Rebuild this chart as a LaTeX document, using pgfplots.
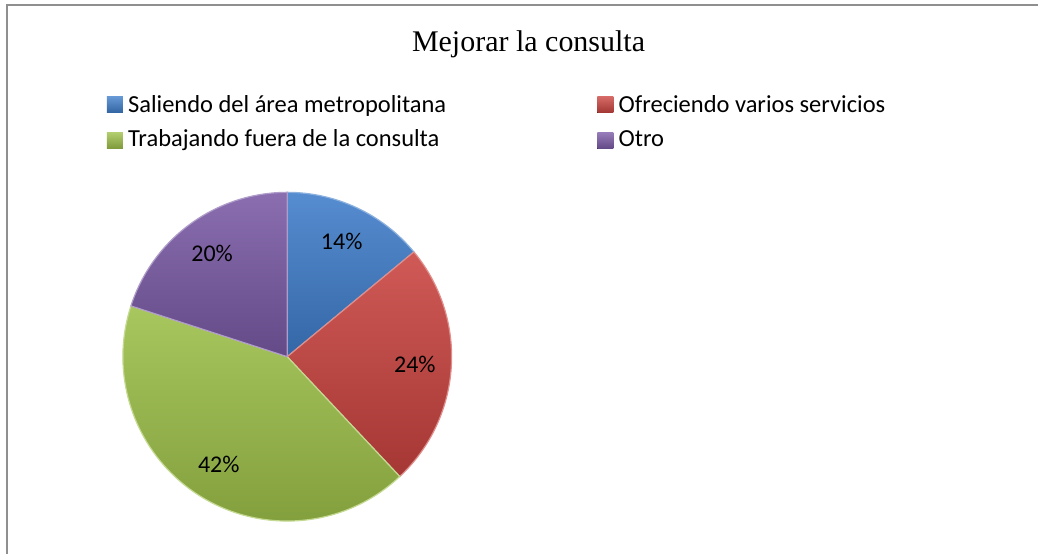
\documentclass[border=0pt]{standalone}
\usepackage{fontspec}
\setmainfont{Liberation Serif}
\newfontfamily\calibri{Carlito}
\usepackage{pgfplots}
\usepackage{pgfplotstable}
\pgfplotsset{compat=1.18}

\definecolor{sliceBlue}{HTML}{3F7DCA}
\definecolor{sliceRed}{HTML}{C9433F}
\definecolor{sliceGreen}{HTML}{9CBF48}
\definecolor{slicePurple}{HTML}{7A5AA5}
\definecolor{frameGray}{HTML}{8F8F8F}

\pgfplotstableread{
label value color
Saliendo 14 sliceBlue
Ofreciendo 24 sliceRed
Trabajando 42 sliceGreen
Otro 20 slicePurple
}\piedata

\newcommand\labelfont{\calibri\fontsize{24}{29}\selectfont}
\newcommand\legfont{\calibri\fontsize{24.5}{29}\selectfont}

\begin{document}
\begin{tikzpicture}
\begin{axis}[
  x=1pt, y=1pt,
  xmin=0, xmax=1039, ymin=0, ymax=554,
  hide axis, clip=false,
  scale only axis,
]
\path (axis cs:0,0) rectangle (axis cs:1039,554);
% frame (top and left visible)
\draw[frameGray, line width=1.8pt] (axis cs:7,0) -- (axis cs:7,549) -- (axis cs:1039,549);

% title
\node[anchor=base, inner sep=0pt, font=\fontsize{30}{36}\selectfont] at (axis cs:529,502) {Mejorar la consulta};

% pie
\gdef\startang{90}
\pgfplotsforeachungrouped \i in {0,...,3}{%
  \pgfplotstablegetelem{\i}{value}\of\piedata \let\val\pgfplotsretval
  \pgfplotstablegetelem{\i}{color}\of\piedata \let\col\pgfplotsretval
  \pgfmathsetmacro{\endang}{\startang-3.6*\val}%
  \pgfmathsetmacro{\midang}{(\startang+\endang)/2}%
  \edef\cmd{%
    \noexpand\path[top color=\col!88!white, bottom color=\col!82!black,
        draw=\col!60!white, line width=1.2pt, line join=round]
      (axis cs:287.5,197) -- ++(\startang:164.5pt)
      arc[start angle=\startang, end angle=\endang, radius=164.5pt] -- cycle;
    \noexpand\node[font=\noexpand\labelfont, inner sep=0pt]
      at ([shift={(\midang:128pt)}]axis cs:287.5,197) {\val\%};
  }%
  \cmd
  \global\let\startang\endang
}

% legend
\fill[top color=sliceBlue!80!white, bottom color=sliceBlue!80!black] (axis cs:107,441) rectangle (axis cs:123,457);
\node[anchor=base west, inner sep=0pt, font=\legfont] at (axis cs:128,441) {Saliendo del área metropolitana};
\fill[top color=sliceGreen!80!white, bottom color=sliceGreen!80!black] (axis cs:107,405) rectangle (axis cs:123,421);
\node[anchor=base west, inner sep=0pt, font=\legfont] at (axis cs:128,407) {Trabajando fuera de la consulta};
\fill[top color=sliceRed!80!white, bottom color=sliceRed!80!black] (axis cs:598,441) rectangle (axis cs:614,457);
\node[anchor=base west, inner sep=0pt, font=\legfont] at (axis cs:619,441) {Ofreciendo varios servicios};
\fill[top color=slicePurple!80!white, bottom color=slicePurple!80!black] (axis cs:598,405) rectangle (axis cs:614,421);
\node[anchor=base west, inner sep=0pt, font=\legfont] at (axis cs:619,407) {Otro};
\end{axis}
\end{tikzpicture}
\end{document}
